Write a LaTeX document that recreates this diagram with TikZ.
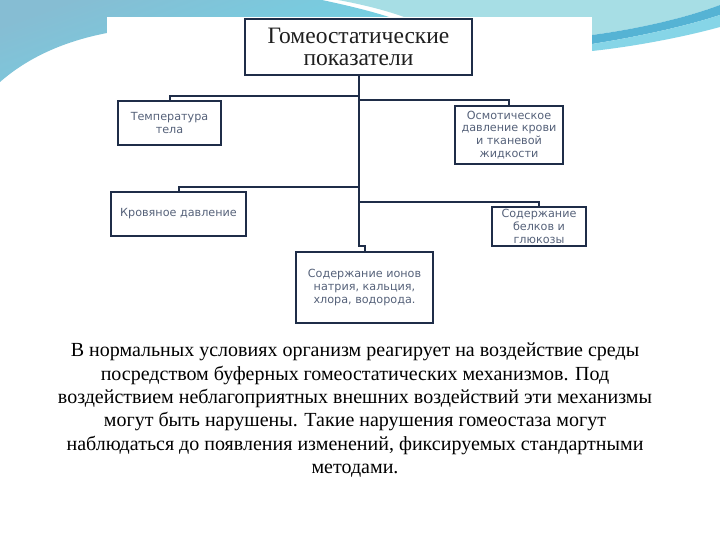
\documentclass[tikz,border=0pt]{standalone}
\usepackage{fontspec}
\setmainfont{Liberation Serif}
\newfontfamily\boxfont{DejaVu Sans}
\definecolor{navy}{HTML}{1F2D48}
\definecolor{boxtxt}{HTML}{56627A}
\definecolor{steel}{HTML}{86BDD3}
\definecolor{turq}{HTML}{6FD6E8}
\definecolor{lcyan}{HTML}{A7DEE5}
\definecolor{bandblue}{HTML}{55B3D4}
\definecolor{bandlight}{HTML}{86D5E7}
\begin{document}
\begin{tikzpicture}[x=1pt,y=-1pt,
  box/.style={draw=navy,line width=2pt,fill=white,inner sep=0pt,align=center,
    font=\boxfont\fontsize{11.2}{12.8}\selectfont,text=boxtxt},
  conn/.style={draw=navy,line width=2pt}]
\useasboundingbox (0,0) rectangle (720,540);
\fill[white] (0,0) rectangle (720,540);
% left blue swoosh
\shade[top color=steel,bottom color=turq,shading angle=20]
  (0,0) -- (322,0) .. controls (350,6) and (375,12) .. (398,20) -- (398,30)
  -- (107,33) .. controls (60,42) and (25,60) .. (0,82) -- cycle;
% right cyan area
\fill[lcyan] (338,0) -- (720,0) -- (720,5) .. controls (680,20) and (630,30) .. (592,35)
  -- (420,30) -- (404,17) .. controls (385,10) and (360,4) .. (338,0) -- cycle;
% band
\fill[bandblue] (720,5) .. controls (680,20) and (630,30) .. (592,35) -- (592,44)
  .. controls (630,38) and (680,28) .. (720,15) -- cycle;
\fill[bandlight] (720,15) .. controls (680,28) and (630,38) .. (592,44) -- (592,51)
  .. controls (630,47) and (680,38) .. (720,27) -- cycle;
% panel
\fill[white] (107,17) rectangle (592,338);

% nodes
\node[box,minimum width=227pt,minimum height=56pt,text=black!88,
  font=\fontsize{23.5}{21.5}\selectfont] (title) at (358.5,47) {Гомеостатические\\показатели};
\node[box,minimum width=103pt,minimum height=44pt] (temp) at (169.5,123) {Температура\\тела};
\node[box,minimum width=108pt,minimum height=58pt] (osm) at (509,135)
  {Осмотическое\\давление крови\\и тканевой\\жидкости};
\node[box,minimum width=135pt,minimum height=44pt] (bp) at (178.5,214) {Кровяное давление};
\node[box,minimum width=94pt,minimum height=39pt] (prot) at (539,226.5)
  {Содержание\\белков и\\глюкозы};
\node[box,minimum width=137pt,minimum height=71pt] (ions) at (364.5,287.5)
  {Содержание ионов\\натрия, кальция,\\хлора, водорода.};

% connectors
\coordinate (b1) at (358.5,96);
\coordinate (b2) at (358.5,100);
\coordinate (b3) at (358.5,187);
\coordinate (b4) at (358.5,202);
\coordinate (tb) at (358.5,246);
\draw[conn] (title.south) -- (tb) -| (ions.north);
\draw[conn] (b1) -| (temp.north);
\draw[conn] (b2) -| (osm.north);
\draw[conn] (b3) -| (bp.north);
\draw[conn] (b4) -| (prot.north);

% paragraph
\node[anchor=north,align=center,inner sep=0pt,font=\fontsize{20}{23.3}\selectfont] (para) at (355,343)
  {В нормальных условиях организм реагирует на воздействие среды\\
   посредством буферных гомеостатических механизмов. Под\\
   воздействием неблагоприятных внешних воздействий эти механизмы\\
   могут быть нарушены. Такие нарушения гомеостаза могут\\
   наблюдаться до появления изменений, фиксируемых стандартными\\
   методами.};
\end{tikzpicture}
\end{document}
